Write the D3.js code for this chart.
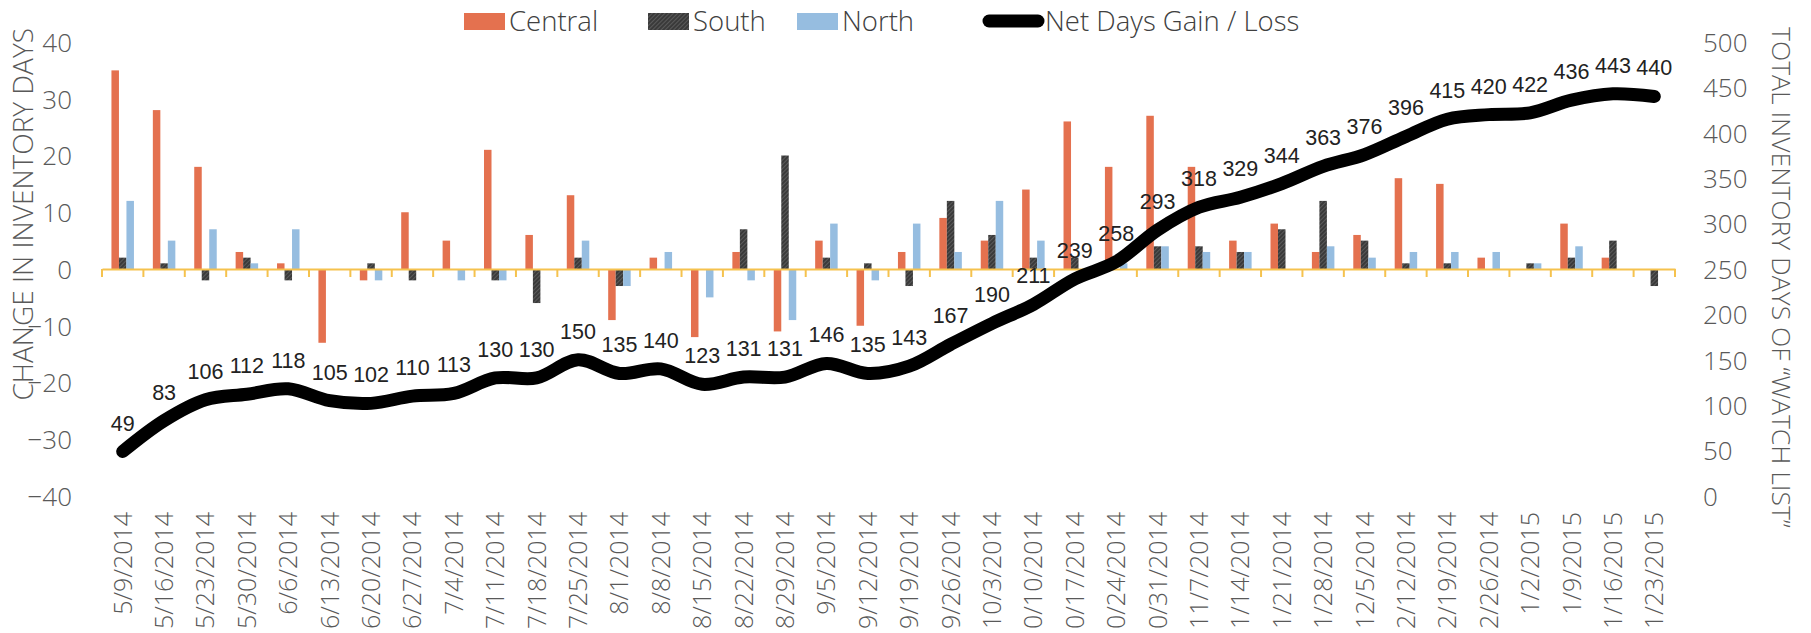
<!DOCTYPE html>
<html>
<head>
<meta charset="utf-8">
<script src="https://cdn.jsdelivr.net/npm/d3@7"></script>
<style>
  html, body { margin: 0; padding: 0; background: #ffffff; overflow: hidden; }
  svg { display: block; }
</style>
</head>
<body>
<svg id="chart" width="1811" height="633"></svg>
<script>
const categories = ["5/9/2014","5/16/2014","5/23/2014","5/30/2014","6/6/2014","6/13/2014","6/20/2014","6/27/2014","7/4/2014","7/11/2014","7/18/2014","7/25/2014","8/1/2014","8/8/2014","8/15/2014","8/22/2014","8/29/2014","9/5/2014","9/12/2014","9/19/2014","9/26/2014","10/3/2014","10/10/2014","10/17/2014","10/24/2014","10/31/2014","11/7/2014","11/14/2014","11/21/2014","11/28/2014","12/5/2014","12/12/2014","12/19/2014","12/26/2014","1/2/2015","1/9/2015","1/16/2015","1/23/2015"];
const central = [35,28,18,3,1,-13,-2,10,5,21,6,13,-9,2,-12,3,-11,5,-10,3,9,5,14,26,18,27,18,5,8,3,6,16,15,2,0,8,2,0];
const south   = [2,1,-2,2,-2,0,1,-2,0,-2,-6,2,-3,0,0,7,20,2,1,-3,12,6,2,2,0,4,4,3,7,12,5,1,1,0,1,2,5,-3];
const north   = [12,5,7,1,7,0,-2,0,-2,-2,0,5,-3,3,-5,-2,-9,8,-2,8,3,12,5,0,1,4,3,3,0,4,2,3,3,3,1,4,0,0];
const netDays = [49,83,106,112,118,105,102,110,113,130,130,150,135,140,123,131,131,146,135,143,167,190,211,239,258,293,318,329,344,363,376,396,415,420,422,436,443,440];
const leftTicks = [-40,-30,-20,-10,0,10,20,30,40];
const rightTicks = [0,50,100,150,200,250,300,350,400,450,500];
const seriesNames = ["Central","South","North"];
const lineName = "Net Days Gain / Loss";
const leftTitle = "CHANGE IN INVENTORY DAYS";
const rightTitle = "TOTAL INVENTORY DAYS OF \u201CWATCH LIST\u201D";

const colors = { Central: "#E4714F", South: "url(#hatch)", North: "#96BDE0" };
const axisColor = "#F5C24E";
const textColor = "#595959";
const uiFont = "'Open Sans', 'Noto Sans', sans-serif";
const labelFont = "'Liberation Sans', Arial, sans-serif";

const svg = d3.select("#chart");
const defs = svg.append("defs");
const pat = defs.append("pattern").attr("id", "hatch").attr("patternUnits", "userSpaceOnUse")
  .attr("width", 3).attr("height", 3).attr("patternTransform", "rotate(45)");
pat.append("rect").attr("width", 3).attr("height", 3).attr("fill", "#3A3A3A");
pat.append("rect").attr("width", 1).attr("height", 3).attr("fill", "#5A5A5A");

const plot = { left: 102, right: 1675, top: 42, bottom: 496 };

const x = d3.scaleBand().domain(categories).range([plot.left, plot.right]).padding(0);
const xs = d3.scaleBand().domain(seriesNames).range([0, x.bandwidth()]).paddingInner(0).paddingOuter(1.26);
const yL = d3.scaleLinear().domain([-40, 40]).range([plot.bottom, plot.top]);
const yR = d3.scaleLinear().domain([0, 500]).range([plot.bottom, plot.top]);

const seriesData = { Central: central, South: south, North: north };

// bars
const g = svg.append("g");
seriesNames.forEach(name => {
  g.append("g").selectAll("rect").data(seriesData[name]).join("rect")
    .attr("x", (d, i) => x(categories[i]) + xs(name))
    .attr("width", xs.bandwidth())
    .attr("y", d => yL(Math.max(0, d)))
    .attr("height", d => Math.abs(yL(d) - yL(0)))
    .attr("fill", colors[name]);
});

// x axis line + ticks
const xAxis = d3.axisBottom(x).tickSize(0).tickFormat("");
const xa = svg.append("g").attr("transform", `translate(0,${yL(0)})`).call(xAxis);
xa.select(".domain").attr("stroke", axisColor).attr("stroke-width", 2);
const bounds = categories.map(c => x(c)).concat([x(categories[categories.length - 1]) + x.bandwidth()]);
xa.selectAll("line.bt").data(bounds).join("line").attr("class", "bt")
  .attr("x1", d => d).attr("x2", d => d).attr("y1", 0).attr("y2", 8)
  .attr("stroke", axisColor).attr("stroke-width", 2);

// x labels (rotated)
svg.append("g").selectAll("text").data(categories).join("text")
  .attr("transform", d => `translate(${x(d) + x.bandwidth() / 2 + 9},512) rotate(-90)`)
  .attr("text-anchor", "end")
  .attr("font-family", uiFont).attr("font-size", 25).attr("font-weight", 300)
  .attr("fill", textColor)
  .text(d => d);

// left axis
const la = svg.append("g").attr("transform", `translate(${plot.left - 30},0)`)
  .call(d3.axisLeft(yL).tickValues(leftTicks).tickSize(0).tickPadding(0));
la.select(".domain").remove();
la.selectAll("text").attr("font-family", uiFont).attr("font-size", 26).attr("font-weight", 300)
  .attr("fill", textColor).attr("dy", "0.36em");

// right axis
const ra = svg.append("g").attr("transform", `translate(1703,0)`)
  .call(d3.axisRight(yR).tickValues(rightTicks).tickSize(0).tickPadding(0));
ra.select(".domain").remove();
ra.selectAll("text").attr("font-family", uiFont).attr("font-size", 26).attr("font-weight", 300)
  .attr("fill", textColor).attr("dy", "0.36em");

// axis titles
svg.append("text").attr("transform", "translate(33,28) rotate(-90)")
  .attr("text-anchor", "end").attr("font-family", uiFont).attr("font-size", 28).attr("font-weight", 300)
  .attr("fill", textColor).text(leftTitle);
svg.append("text").attr("transform", "translate(1772,27) rotate(90)")
  .attr("text-anchor", "start").attr("font-family", uiFont).attr("font-size", 26.5).attr("font-weight", 300)
  .attr("fill", textColor).text(rightTitle);

// line
const cx = (i) => x(categories[i]) + x.bandwidth() / 2;
const line = d3.line().x((d, i) => cx(i)).y(d => yR(d)).curve(d3.curveCatmullRom.alpha(0.5));
svg.append("path").datum(netDays).attr("d", line)
  .attr("fill", "none").attr("stroke", "#000").attr("stroke-width", 13)
  .attr("stroke-linecap", "round").attr("stroke-linejoin", "round");

// data labels
svg.append("g").selectAll("text").data(netDays).join("text")
  .attr("x", (d, i) => cx(i)).attr("y", d => yR(d) - 21)
  .attr("text-anchor", "middle")
  .attr("font-family", labelFont).attr("font-size", 21.5)
  .attr("fill", "#222")
  .text(d => d);

// legend
const legend = svg.append("g").attr("transform", "translate(0,21)");
const items = [
  { name: "Central", type: "bar", at: 464 },
  { name: "South", type: "bar", at: 648 },
  { name: "North", type: "bar", at: 797 },
  { name: lineName, type: "line", at: 982 }
];
items.forEach(it => {
  const gi = legend.append("g").attr("transform", `translate(${it.at},0)`);
  if (it.type === "bar") {
    gi.append("rect").attr("x", 0).attr("y", -8).attr("width", 41).attr("height", 17).attr("fill", colors[it.name]);
  } else {
    gi.append("line").attr("x1", 7).attr("x2", 56).attr("y1", 0).attr("y2", 0)
      .attr("stroke", "#000").attr("stroke-width", 13).attr("stroke-linecap", "round");
  }
  const sw = it.type === "bar" ? 45 : 63;
  gi.append("text").attr("x", sw).attr("y", 0).attr("dy", "0.35em")
    .attr("font-family", uiFont).attr("font-size", 27.5).attr("font-weight", 300)
    .attr("fill", "#404040").text(it.name);
});
</script>
</body>
</html>
